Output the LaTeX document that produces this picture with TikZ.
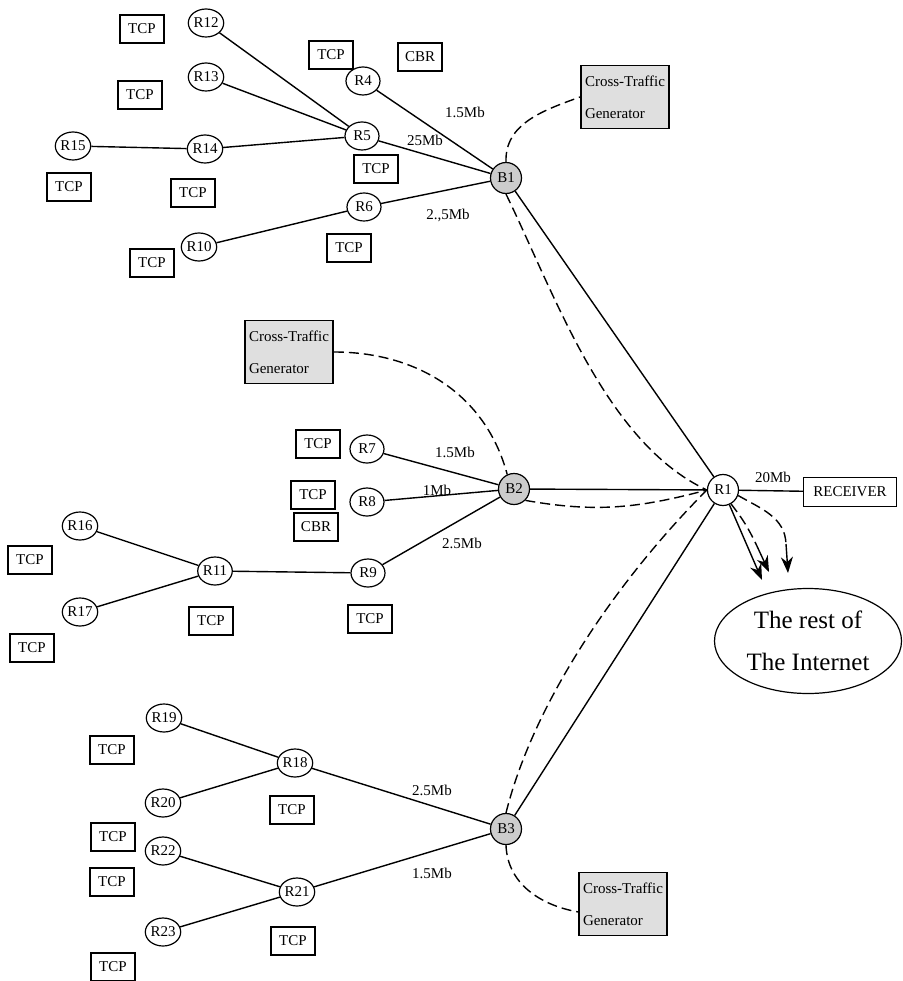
\documentclass[tikz,border=0pt]{standalone}
\usepackage{fontspec}
\setmainfont{Liberation Serif}
\usetikzlibrary{positioning,shapes.geometric,arrows.meta}

\begin{document}
\begin{tikzpicture}[x=1pt, y=-1pt, line width=1.4pt,
    router/.style={draw, ellipse, line width=1.2pt, minimum width=34pt, minimum height=28pt, inner sep=0pt, font=\fontsize{15}{15}\selectfont},
    edge/.style={draw, circle, line width=1.2pt, minimum size=31pt, inner sep=0pt, fill=gray!40, font=\fontsize{15}{15}\selectfont},
    src/.style={draw, rectangle, line width=1.1pt, minimum width=44pt, minimum height=28pt, inner sep=0pt, font=\fontsize{15}{15}\selectfont},
    gen/.style={draw, rectangle, line width=1.8pt, fill=gray!25, minimum width=88pt, minimum height=63pt, inner sep=2pt, align=left, font=\fontsize{15}{32}\selectfont},
    rate/.style={font=\fontsize{15}{15}\selectfont},
    flow/.style={dash pattern=on 10pt off 5pt},
    tip/.style={-{Stealth[length=16pt,width=12pt]}}]
  \useasboundingbox (0,0) rectangle (902,981);

  % upper cluster
  \node[src] (tcpa) at (142,29) {TCP};
  \node[router] (r12) at (206,23) {R12};
  \node[router] (r13) at (206,77) {R13};
  \node[src] (tcpb) at (140,95) {TCP};
  \node[router] (r15) at (73,146) {R15};
  \node[router] (r14) at (205,149) {R14};
  \node[src] (tcpc) at (69,187) {TCP};
  \node[src] (tcpd) at (193,193) {TCP};
  \node[router] (r10) at (199,247) {R10};
  \node[src] (tcpe) at (152,263) {TCP};
  \node[src] (tcpf) at (331,55) {TCP};
  \node[src] (cbra) at (420,57) {CBR};
  \node[router] (r4) at (363,81) {R4};
  \node[router] (r5) at (362,136) {R5};
  \node[src] (tcpg) at (376,169) {TCP};
  \node[router] (r6) at (364,207) {R6};
  \node[src] (tcph) at (349,248) {TCP};
  \node[edge] (b1) at (506,178) {B1};
  \node[gen] (gena) at (625,97) {Cross-Traffic\\Generator};

  \draw (r12) -- (r5);
  \draw (r13) -- (r5);
  \draw (r14) -- (r5);
  \draw (r15) -- (r14);
  \draw (r10) -- (r6);
  \draw (r4) -- (b1);
  \draw (r5) -- (b1);
  \draw (r6) -- (b1);
  \node[rate] at (465,112) {1.5Mb};
  \node[rate] at (425,140) {25Mb};
  \node[rate] at (448,215) {2.,5Mb};

  % middle cluster
  \node[gen] (genb) at (289,352) {Cross-Traffic\\Generator};
  \node[src] (tcpi) at (318,444) {TCP};
  \node[router] (r7) at (367,449) {R7};
  \node[src] (tcpj) at (313,495) {TCP};
  \node[router] (r8) at (367,502) {R8};
  \node[src] (cbrb) at (316,527) {CBR};
  \node[edge] (b2) at (514,489) {B2};
  \node[router] (r16) at (80,526) {R16};
  \node[src] (tcpk) at (30,560) {TCP};
  \node[router] (r11) at (215,571) {R11};
  \node[router] (r9) at (368,573) {R9};
  \node[router] (r17) at (80,612) {R17};
  \node[src] (tcpl) at (211,621) {TCP};
  \node[src] (tcpm) at (370,619) {TCP};
  \node[src] (tcpn) at (32,648) {TCP};

  \draw (r7) -- (b2);
  \draw (r8) -- (b2);
  \draw (r9) -- (b2);
  \draw (r11) -- (r9);
  \draw (r16) -- (r11);
  \draw (r17) -- (r11);
  \node[rate] at (455,452) {1.5Mb};
  \node[rate] at (437,490) {1Mb};
  \node[rate] at (462,543) {2.5Mb};

  % lower cluster
  \node[router] (r19) at (164,718) {R19};
  \node[src] (tcpo) at (112,750) {TCP};
  \node[router] (r18) at (295,763) {R18};
  \node[router] (r20) at (163,803) {R20};
  \node[src] (tcpp) at (292,810) {TCP};
  \node[src] (tcpq) at (113,837) {TCP};
  \node[router] (r22) at (163,851) {R22};
  \node[src] (tcpr) at (112,882) {TCP};
  \node[router] (r21) at (297,892) {R21};
  \node[router] (r23) at (163,932) {R23};
  \node[src] (tcps) at (293,941) {TCP};
  \node[src] (tcpt) at (113,967) {TCP};
  \node[edge] (b3) at (506,829) {B3};
  \node[gen] (genc) at (623,904) {Cross-Traffic\\Generator};

  \draw (r19) -- (r18);
  \draw (r20) -- (r18);
  \draw (r18) -- (b3);
  \draw (r22) -- (r21);
  \draw (r23) -- (r21);
  \draw (r21) -- (b3);
  \node[rate] at (432,790) {2.5Mb};
  \node[rate] at (432,873) {1.5Mb};

  % core router, receiver, internet
  \node[draw, circle, line width=1.2pt, minimum size=31pt, inner sep=0pt, font=\fontsize{15}{15}\selectfont] (core) at (723,490) {R1};
  \node[src, minimum width=93pt, minimum height=29pt] (recv) at (850,492) {RECEIVER};
  \node[draw, ellipse, line width=1.2pt, minimum width=187pt, minimum height=105pt, align=center, font=\fontsize{25}{42}\selectfont] (net) at (808,641) {The rest of\\The Internet};
  \node[rate] at (773,477) {20Mb};
  \coordinate (tipa) at (762,580);
  \coordinate (tipb) at (769,572);
  \coordinate (tailb) at (756,544);
  \coordinate (tipc) at (788,573);
  \coordinate (tailc) at (786,544);

  \draw (b1) -- (core);
  \draw (b2) -- (core);
  \draw (b3) -- (core);
  \draw (core) -- (recv);
  \draw[tip] (core) -- (tipa);

  % cross traffic
  \draw[flow] (b1.north) to[out=92,in=200] (gena.west);
  \draw[flow] (genb.east) to[out=0,in=105] (b2.115);
  \draw[flow] (b3.south) to[out=-88,in=170] (genc.190);
  \draw[flow] (b1.south) to[out=-64,in=155,looseness=0.8] (core.west);
  \draw[flow] (b2.south east) to[out=-10,in=195] (core.west);
  \draw[flow] (b3.north) to[out=76,in=225,looseness=0.8] (core.west);
  \draw[flow] (core.-60) to[bend left=6] (tailb);
  \draw[tip] (tailb) -- (tipb);
  \draw[flow] (core.-20) to[out=-30,in=92] (tailc);
  \draw[tip] (tailc) -- (tipc);
\end{tikzpicture}
\end{document}
